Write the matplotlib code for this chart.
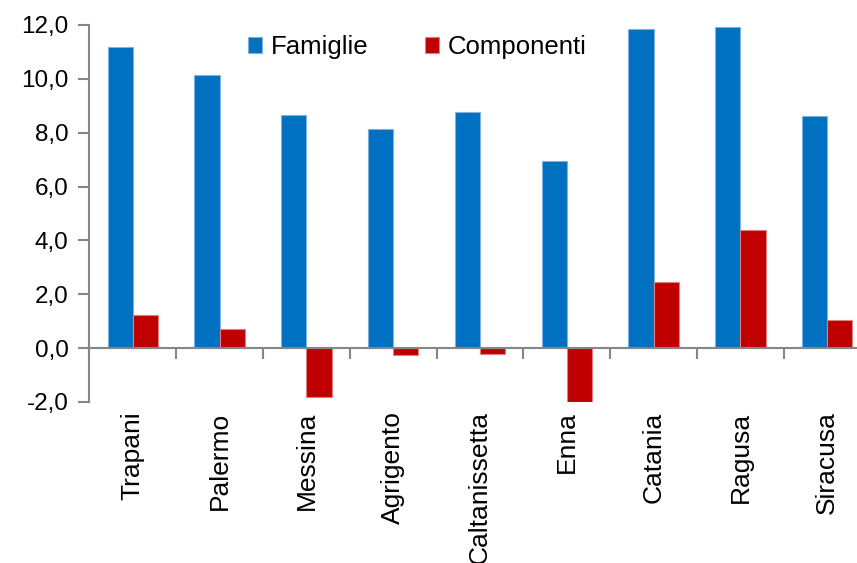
import matplotlib.pyplot as plt
import matplotlib.transforms as mtransforms
import numpy as np

province = ['Trapani', 'Palermo', 'Messina', 'Agrigento', 'Caltanissetta',
            'Enna', 'Catania', 'Ragusa', 'Siracusa']
famiglie = [11.2, 10.14, 8.66, 8.13, 8.77, 6.94, 11.86, 11.92, 8.62]
componenti = [1.23, 0.71, -1.81, -0.25, -0.2, -2.0, 2.44, 4.40, 1.03]
y_ticks = [-2, 0, 2, 4, 6, 8, 10, 12]

plt.rcParams['font.family'] = ['Liberation Sans', 'DejaVu Sans']
axis_grey = '#868686'

fig = plt.figure(figsize=(8.57, 5.63), dpi=100)
ax = fig.add_axes([0.1043, 0.286, 0.9116, 0.6696])

x = np.arange(len(province))
w = 0.29
ax.bar(x - w / 2, famiglie, w, color='#0070C0', edgecolor='#7FB2E0',
       linewidth=0.8, label='Famiglie', zorder=2)
ax.bar(x + w / 2, componenti, w, color='#C00000', edgecolor='#E07F7F',
       linewidth=0.8, label='Componenti', zorder=2)

ax.set_xlim(-0.5, len(province) - 0.5)
ax.set_ylim(-2, 12)
ax.set_yticks(y_ticks)
ax.set_yticklabels([f'{v:.1f}'.replace('.', ',') for v in y_ticks])

# zero line carries the tick marks between categories
for side in ['top', 'right']:
    ax.spines[side].set_visible(False)
ax.spines['bottom'].set_position(('data', 0))
ax.spines['bottom'].set_zorder(3)
for side in ['left', 'bottom']:
    ax.spines[side].set_color(axis_grey)
    ax.spines[side].set_linewidth(1.5)
ax.set_xticks(np.arange(len(province) + 1) - 0.5)
ax.tick_params(axis='x', length=8, width=1.5, color=axis_grey,
               labelbottom=False)
ax.tick_params(axis='y', length=8, width=1.5, color=axis_grey,
               labelsize=17.5, pad=7)

# category names sit below the axes, rotated
trans = mtransforms.blended_transform_factory(ax.transData, ax.transAxes)
for xi, name in zip(x, province):
    ax.text(xi, -0.025, name, transform=trans, rotation=90,
            ha='center', va='top', fontsize=19)

ax.legend(loc='center', bbox_to_anchor=(0.487, 0.9165),
          bbox_transform=fig.transFigure, ncol=2, frameon=False,
          fontsize=18.5, handlelength=0.55, handleheight=0.55,
          handletextpad=0.35, columnspacing=2.2, borderaxespad=0)

fig.savefig('out.png', dpi=100)
